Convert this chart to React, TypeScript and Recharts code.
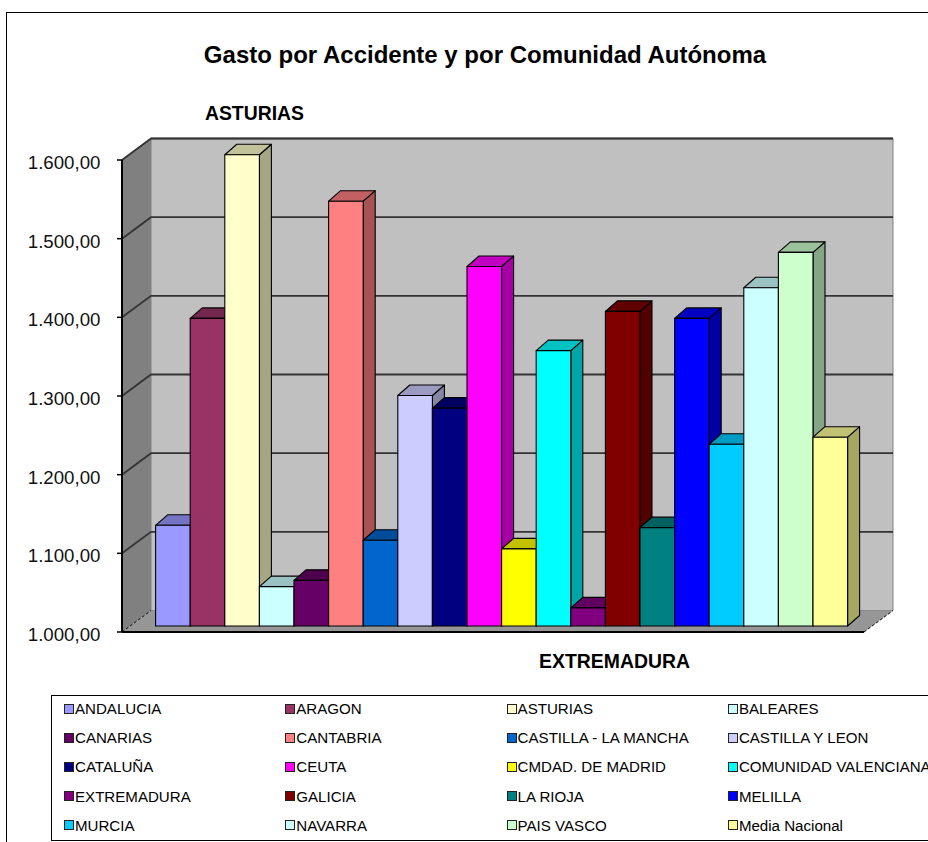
import React from 'react';
import { BarChart, Bar, XAxis, YAxis, CartesianGrid, Legend, Customized } from 'recharts';

const FONT = '"Liberation Sans", Arial, sans-serif';

const regions = [
  'ANDALUCIA', 'ARAGON', 'ASTURIAS', 'BALEARES',
  'CANARIAS', 'CANTABRIA', 'CASTILLA - LA MANCHA', 'CASTILLA Y LEON',
  'CATALUÑA', 'CEUTA', 'CMDAD. DE MADRID', 'COMUNIDAD VALENCIANA',
  'EXTREMADURA', 'GALICIA', 'LA RIOJA', 'MELILLA',
  'MURCIA', 'NAVARRA', 'PAIS VASCO', 'Media Nacional',
];

const gasto = [
  1128, 1391, 1599, 1050,
  1058, 1540, 1109, 1293,
  1277, 1457, 1098, 1350,
  1023, 1400, 1125, 1391,
  1231, 1430, 1475, 1240,
];

const colors = [
  '#9999ff', '#993366', '#ffffcc', '#ccffff',
  '#660066', '#ff8080', '#0066cc', '#ccccff',
  '#000080', '#ff00ff', '#ffff00', '#00ffff',
  '#800080', '#800000', '#008080', '#0000ff',
  '#00ccff', '#ccffff', '#ccffcc', '#ffff99',
];

const yTicks = [1000, 1100, 1200, 1300, 1400, 1500, 1600];

const chartData = [
  regions.reduce<Record<string, number | string>>(
    (row, name, i) => {
      row[name] = gasto[i];
      return row;
    },
    { name: 'Gasto' },
  ),
];

// front plane of the fake 3D box, and how far back the walls go
const LEFT = 122;
const RIGHT = 864;
const TOP = 160;
const BOTTOM = 632;
const DEPTH_X = 29;
const DEPTH_Y = 21.5;

const shade = (hex: string, k: number) => {
  const n = parseInt(hex.slice(1), 16);
  const c = [(n >> 16) & 255, (n >> 8) & 255, n & 255].map((v) => Math.round(v * k));
  return `rgb(${c[0]},${c[1]},${c[2]})`;
};

const pts = (list: number[][]) => list.map((p) => p.join(',')).join(' ');

// Excel style 3D column, sits halfway into the floor
const Bar3D = (props: any) => {
  const { x, y, width, height, fill } = props;
  const fx = x + 8.6;
  const fy = y - 6;
  const dx = 12;
  const dy = 10.5;
  const line = { stroke: '#000', strokeWidth: 1.1, strokeLinejoin: 'round' as const };
  return (
    <g>
      <polygon
        points={pts([[fx + width, fy], [fx + width + dx, fy - dy], [fx + width + dx, fy + height - dy], [fx + width, fy + height]])}
        fill={shade(fill, 0.65)}
        {...line}
      />
      <polygon
        points={pts([[fx, fy], [fx + dx, fy - dy], [fx + width + dx, fy - dy], [fx + width, fy]])}
        fill={shade(fill, 0.76)}
        {...line}
      />
      <rect x={fx} y={fy} width={width} height={height} fill={fill} {...line} />
    </g>
  );
};

// sits behind the chart svg, the grid has to paint on top of it
const Walls = () => (
  <svg width={928} height={842} style={{ position: 'absolute', left: 0, top: 0 }}>
    <polygon
      points={pts([[LEFT + DEPTH_X, TOP - DEPTH_Y], [RIGHT + DEPTH_X, TOP - DEPTH_Y], [RIGHT + DEPTH_X, BOTTOM - DEPTH_Y], [LEFT + DEPTH_X, BOTTOM - DEPTH_Y]])}
      fill="#c0c0c0"
      stroke="#808080"
    />
    <line x1={LEFT + DEPTH_X} y1={TOP - DEPTH_Y} x2={RIGHT + DEPTH_X} y2={TOP - DEPTH_Y} stroke="#333" strokeWidth={1.5} />
    <polygon
      points={pts([[LEFT, TOP], [LEFT + DEPTH_X, TOP - DEPTH_Y], [LEFT + DEPTH_X, BOTTOM - DEPTH_Y], [LEFT, BOTTOM]])}
      fill="#808080"
    />
    <polygon
      points={pts([[LEFT, BOTTOM], [LEFT + DEPTH_X, BOTTOM - DEPTH_Y], [RIGHT + DEPTH_X, BOTTOM - DEPTH_Y], [RIGHT, BOTTOM]])}
      fill="#969696"
    />
    <line x1={LEFT} y1={BOTTOM} x2={RIGHT} y2={BOTTOM} stroke="#000" strokeWidth={2} />
    <line x1={RIGHT} y1={BOTTOM} x2={RIGHT + DEPTH_X} y2={BOTTOM - DEPTH_Y} stroke="#000" strokeWidth={1} strokeDasharray="3 2" />
    <line x1={LEFT} y1={BOTTOM} x2={LEFT + DEPTH_X} y2={BOTTOM - DEPTH_Y} stroke="#000" strokeWidth={1} strokeDasharray="3 2" />
  </svg>
);

// grid runs along the left wall and then across the back wall
const gridLine = (props: any) => {
  const { x1, x2, y1 } = props;
  if (y1 >= BOTTOM - 1) return <g key="floor" />;
  return (
    <polyline
      key={`grid-${y1}`}
      points={pts([[x1, y1], [x1 + DEPTH_X, y1 - DEPTH_Y], [x2 + DEPTH_X, y1 - DEPTH_Y]])}
      fill="none"
      stroke="#333"
      strokeWidth={1.8}
    />
  );
};

const Titles = () => (
  <g fontFamily={FONT} fontWeight="bold" fill="#000">
    <text x={485} y={63} fontSize={24} textAnchor="middle">Gasto por Accidente y por Comunidad Autónoma</text>
    <text x={254.5} y={120} fontSize={19.4} textAnchor="middle">ASTURIAS</text>
    <text x={614.5} y={668} fontSize={19.4} textAnchor="middle">EXTREMADURA</text>
  </g>
);

const LegendBox = ({ payload }: any) => (
  <div
    style={{
      boxSizing: 'border-box',
      width: 940,
      height: 146,
      border: '1.5px solid #000',
      background: '#fff',
      display: 'grid',
      gridTemplateColumns: 'repeat(4, 221.3px)',
      gridAutoRows: '29.2px',
      paddingLeft: 12,
      fontFamily: FONT,
      fontSize: 15.1,
      color: '#000',
      whiteSpace: 'nowrap',
    }}
  >
    {(payload || []).map((item: any) => (
      <div key={item.value} style={{ display: 'flex', alignItems: 'center', position: 'relative', top: -2 }}>
        <span
          style={{
            boxSizing: 'border-box',
            width: 10,
            height: 10,
            marginRight: 1,
            border: '1.5px solid #222',
            background: item.color,
            flex: 'none',
          }}
        />
        {item.value}
      </div>
    ))}
  </div>
);

export default function App() {
  return (
    <div style={{ position: 'absolute', left: 0, top: 0, width: 928, height: 842, overflow: 'hidden', background: '#fff' }}>
      <div
        style={{
          position: 'absolute',
          left: 6,
          top: 12,
          width: 960,
          height: 900,
          border: '1.5px solid #000',
        }}
      />
      <Walls />
      <BarChart
        width={928}
        height={842}
        data={chartData}
        barSize={34.6}
        barGap={0}
        margin={{ top: TOP, right: 928 - RIGHT, bottom: 842 - BOTTOM, left: 0 }}
        style={{ position: 'absolute', left: 0, top: 0 }}
      >
        <CartesianGrid vertical={false} horizontal={gridLine} />
        <XAxis dataKey="name" hide />
        <YAxis
          width={LEFT}
          domain={[1000, 1600]}
          ticks={yTicks}
          interval={0}
          tickFormatter={(v: number) => v.toLocaleString('de-DE', { minimumFractionDigits: 2 })}
          tick={{ fontFamily: FONT, fontSize: 18.7, fill: '#111', dy: 2.5 }}
          tickSize={5}
          tickMargin={16.5}
          axisLine={{ stroke: '#000', strokeWidth: 2 }}
          tickLine={{ stroke: '#000', strokeWidth: 1.5 }}
        />
        {regions.map((name, i) => (
          <Bar key={name} dataKey={name} fill={colors[i]} shape={Bar3D} isAnimationActive={false} />
        ))}
        <Customized component={<Titles />} />
        <Legend
          layout="horizontal"
          align="center"
          verticalAlign="middle"
          itemSorter={null}
          content={<LegendBox />}
          wrapperStyle={{ left: 51, top: 695, width: 940, height: 146, margin: 0 }}
        />
      </BarChart>
    </div>
  );
}
